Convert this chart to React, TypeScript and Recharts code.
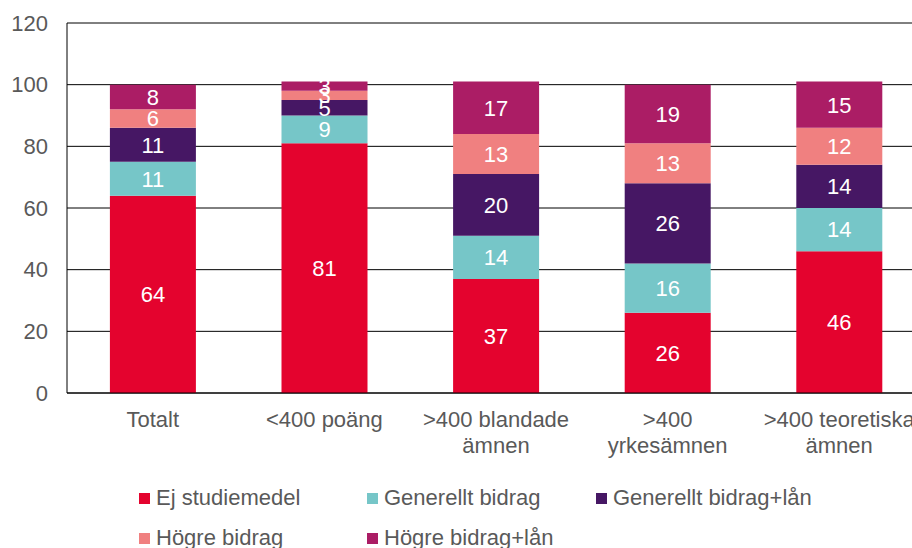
import React from "react";
import { BarChart, Bar, XAxis, YAxis, CartesianGrid, LabelList } from "recharts";

const categories = ["Totalt", "<400 poäng", ">400 blandade ämnen", ">400 yrkesämnen", ">400 teoretiska ämnen"];
const tickLines: string[][] = [
  ["Totalt"],
  ["<400 poäng"],
  [">400 blandade", "ämnen"],
  [">400", "yrkesämnen"],
  [">400 teoretiska", "ämnen"],
];
const ejStudiemedel = [64, 81, 37, 26, 46];
const generelltBidrag = [11, 9, 14, 16, 14];
const generelltBidragLan = [11, 5, 20, 26, 14];
const hogreBidrag = [6, 3, 13, 13, 12];
const hogreBidragLan = [8, 3, 17, 19, 15];
const yTicks = [0, 20, 40, 60, 80, 100, 120];

const series = [
  { key: "ej", name: "Ej studiemedel", color: "#E4032E", values: ejStudiemedel },
  { key: "gb", name: "Generellt bidrag", color: "#76C6C8", values: generelltBidrag },
  { key: "gbl", name: "Generellt bidrag+lån", color: "#461764", values: generelltBidragLan },
  { key: "hb", name: "Högre bidrag", color: "#F08080", values: hogreBidrag },
  { key: "hbl", name: "Högre bidrag+lån", color: "#AB1D65", values: hogreBidragLan },
];

const data = categories.map((c, i) => {
  const row: Record<string, any> = { name: c, idx: i };
  series.forEach((s) => (row[s.key] = s.values[i]));
  return row;
});

const FONT = "'Liberation Sans', Arial, sans-serif";
const FS = 22;

const XTick = (props: any) => {
  const { x, y, payload } = props;
  const lines = tickLines[payload.index] || [String(payload.value)];
  return (
    <text x={x} y={y} textAnchor="middle" fill="#595959" fontSize={FS} fontFamily={FONT}>
      {lines.map((l, i) => (
        <tspan key={i} x={x} dy={i === 0 ? 34 : 26}>
          {l}
        </tspan>
      ))}
    </text>
  );
};

const legendRows = [
  [series[0], series[1], series[2]],
  [series[3], series[4]],
];
const legendColX = [139, 367, 596];
const legendRowY = [492, 532];

export default function App() {
  return (
    <div style={{ position: "absolute", left: 0, top: 0, width: 912, height: 548, overflow: "hidden", background: "#fff", fontFamily: FONT }}>
      <BarChart
        width={925}
        height={548}
        data={data}
        margin={{ top: 23, right: 0, left: 0, bottom: 95 }}
        barCategoryGap="25%"
      >
        <CartesianGrid vertical={false} stroke="#000" strokeWidth={1} />
        <XAxis
          dataKey="name"
          interval={0}
          axisLine={{ stroke: "#000" }}
          tickLine={false}
          tickSize={0}
          tickMargin={0}
          height={60}
          tick={<XTick />}
        />
        <YAxis
          width={67}
          domain={[0, 120]}
          ticks={yTicks}
          interval={0}
          axisLine={{ stroke: "#000" }}
          tickLine={false}
          tickSize={0}
          tickMargin={19}
          tick={{ fill: "#595959", fontSize: FS, fontFamily: FONT }}
        />
        {series.map((s) => (
          <Bar key={s.key} dataKey={s.key} name={s.name} stackId="a" fill={s.color} isAnimationActive={false}>
            <LabelList dataKey={s.key} position="center" fill="#fff" fontSize={FS} fontFamily={FONT} />
          </Bar>
        ))}
      </BarChart>
      {legendRows.map((row, r) =>
        row.map((s, c) => (
          <div
            key={s.key}
            style={{ position: "absolute", left: legendColX[c], top: legendRowY[r] - 8, height: 28, display: "flex", alignItems: "center", whiteSpace: "nowrap" }}
          >
            <div style={{ width: 11, height: 11, background: s.color, marginRight: 6 }} />
            <span style={{ fontSize: FS, color: "#595959", fontFamily: FONT }}>{s.name}</span>
          </div>
        ))
      )}
    </div>
  );
}
